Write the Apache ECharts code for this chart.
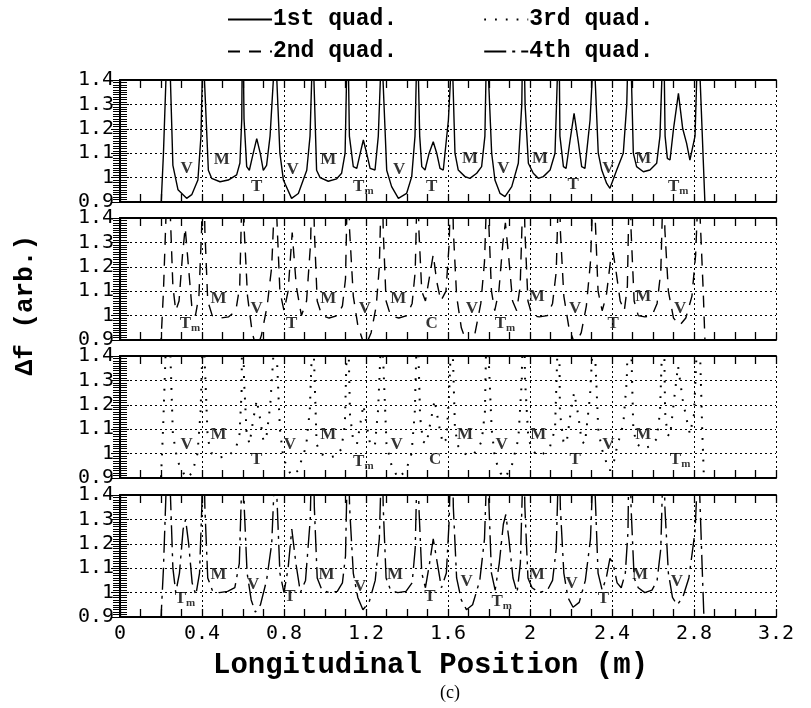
<!DOCTYPE html>
<html lang="en">
<head>
	<meta charset="UTF-8">
	<title>quad</title>
	<script src="https://cdn.jsdelivr.net/npm/echarts@6/dist/echarts.min.js"></script>
	<style>html,body{margin:0;padding:0;background:#fff}</style>
</head>
<body>
	<div id="app" style="width:811px;height:708px"></div>
	<script>
		// axis ticks
		var xTicks=[0,0.4,0.8,1.2,1.6,2,2.4,2.8,3.2];
		var yTicks=[0.9,1,1.1,1.2,1.3,1.4];
		var quadNames=['1st quad.','2nd quad.','3rd quad.','4th quad.'];

		// curves, [position, df]; peaks leave the frame at the top
		var quad1=[[0.200,0.88],[0.212,1.10],[0.224,1.40],[0.235,1.75],
			[0.246,1.40],[0.258,1.05],[0.283,0.95],[0.325,0.915],[0.350,0.93],[0.380,0.99],[0.395,1.17],[0.401,1.40],[0.406,1.75],
			[0.412,1.40],[0.431,1.03],[0.447,0.997],[0.488,0.983],[0.528,0.99],[0.569,1.011],[0.585,1.06],[0.594,1.24],[0.598,1.75],
			[0.605,1.24],[0.618,1.045],[0.631,1.03],[0.650,1.10],[0.667,1.16],[0.684,1.10],[0.699,1.03],[0.715,1.05],[0.732,1.17],[0.748,1.40],[0.756,1.75],
			[0.765,1.40],[0.780,1.10],[0.797,0.99],[0.837,0.915],[0.870,0.935],[0.911,1.03],[0.927,1.17],[0.935,1.40],[0.940,1.75],
			[0.946,1.40],[0.959,1.03],[0.976,1.00],[1.016,0.985],[1.057,0.995],[1.081,1.018],[1.098,1.10],[1.105,1.40],[1.110,1.75],
			[1.115,1.40],[1.119,1.17],[1.138,1.045],[1.155,1.038],[1.172,1.10],[1.187,1.154],[1.203,1.10],[1.220,1.038],[1.244,1.031],[1.260,1.17],[1.270,1.40],[1.276,1.75],
			[1.283,1.40],[1.301,1.03],[1.325,0.963],[1.358,0.915],[1.398,0.935],[1.423,1.004],[1.439,1.17],[1.445,1.40],[1.450,1.75],
			[1.456,1.40],[1.462,1.17],[1.472,1.045],[1.488,1.031],[1.508,1.10],[1.528,1.147],[1.545,1.10],[1.561,1.038],[1.577,1.031],[1.602,1.236],[1.612,1.40],[1.618,1.75],
			[1.624,1.40],[1.634,1.10],[1.650,1.031],[1.683,1.004],[1.707,0.997],[1.740,1.018],[1.764,1.045],[1.780,1.17],[1.785,1.40],[1.790,1.75],
			[1.798,1.40],[1.813,1.10],[1.829,0.99],[1.854,0.935],[1.878,0.922],[1.911,0.963],[1.943,1.059],[1.960,1.30],[1.967,1.75],
			[1.976,1.30],[1.992,1.059],[2.016,1.018],[2.040,0.997],[2.065,1.004],[2.098,1.031],[2.122,1.10],[2.133,1.40],[2.140,1.75],
			[2.146,1.17],[2.163,1.045],[2.176,1.038],[2.195,1.15],[2.215,1.263],[2.235,1.15],[2.252,1.045],[2.268,1.038],[2.293,1.236],[2.303,1.40],[2.310,1.75],
			[2.318,1.40],[2.333,1.10],[2.350,1.031],[2.374,0.976],[2.390,0.956],[2.405,0.99],[2.423,1.031],[2.455,1.10],[2.472,1.30],[2.485,1.75],
			[2.495,1.40],[2.504,1.10],[2.520,1.045],[2.553,1.024],[2.585,1.031],[2.618,1.059],[2.634,1.17],[2.643,1.40],[2.650,1.75],
			[2.659,1.17],[2.670,1.079],[2.683,1.072],[2.700,1.20],[2.724,1.345],[2.745,1.20],[2.764,1.14],[2.780,1.072],[2.805,1.17],[2.813,1.40],[2.820,1.75],
			[2.830,1.40],[2.854,0.88]];

		var quad2=[[0.198,0.86],[0.212,1.10],[0.224,1.40],[0.235,1.75],
			[0.246,1.40],[0.258,1.12],[0.272,1.02],[0.288,1.06],[0.305,1.25],[0.318,1.36],[0.332,1.22],[0.350,1.04],[0.368,1.00],[0.385,1.08],[0.398,1.35],[0.406,1.75],
			[0.414,1.35],[0.428,1.06],[0.450,1.00],[0.490,0.99],[0.530,0.995],[0.565,1.02],[0.584,1.12],[0.592,1.40],[0.598,1.75],
			[0.606,1.35],[0.622,1.08],[0.645,0.93],[0.667,0.86],[0.690,0.92],[0.718,1.04],[0.740,1.20],[0.750,1.40],[0.756,1.75],
			[0.765,1.40],[0.780,1.10],[0.800,1.02],[0.820,1.10],[0.840,1.34],[0.860,1.12],[0.885,1.00],[0.910,1.06],[0.930,1.30],[0.940,1.75],
			[0.948,1.35],[0.962,1.06],[0.985,1.00],[1.020,0.99],[1.060,1.00],[1.085,1.04],[1.100,1.15],[1.106,1.40],[1.110,1.75],
			[1.120,1.35],[1.138,1.08],[1.160,0.96],[1.195,0.87],[1.225,0.93],[1.250,1.04],[1.265,1.20],[1.271,1.40],[1.276,1.75],
			[1.284,1.35],[1.298,1.06],[1.320,1.00],[1.360,0.99],[1.400,1.00],[1.425,1.05],[1.440,1.18],[1.446,1.40],[1.450,1.75],
			[1.458,1.35],[1.472,1.10],[1.490,1.06],[1.510,1.16],[1.528,1.25],[1.545,1.14],[1.565,1.06],[1.590,1.10],[1.606,1.30],[1.618,1.75],
			[1.626,1.35],[1.642,1.08],[1.665,0.95],[1.700,0.87],[1.730,0.92],[1.760,1.05],[1.778,1.22],[1.785,1.40],[1.790,1.75],
			[1.798,1.40],[1.812,1.10],[1.828,1.02],[1.848,1.10],[1.868,1.30],[1.880,1.38],[1.895,1.25],[1.915,1.06],[1.935,1.02],[1.952,1.12],[1.962,1.40],[1.967,1.75],
			[1.975,1.35],[1.990,1.06],[2.010,1.00],[2.045,0.995],[2.085,1.00],[2.110,1.05],[2.128,1.18],[2.135,1.40],[2.140,1.75],
			[2.148,1.35],[2.165,1.08],[2.190,0.95],[2.220,0.88],[2.250,0.93],[2.275,1.04],[2.295,1.22],[2.303,1.40],[2.310,1.75],
			[2.318,1.40],[2.332,1.10],[2.352,1.02],[2.372,1.08],[2.392,1.22],[2.405,1.26],[2.420,1.18],[2.440,1.06],[2.460,1.02],[2.475,1.12],[2.481,1.40],[2.485,1.75],
			[2.493,1.35],[2.508,1.06],[2.528,1.00],[2.560,0.995],[2.595,1.00],[2.620,1.05],[2.638,1.18],[2.645,1.40],[2.650,1.75],
			[2.658,1.35],[2.675,1.10],[2.700,0.99],[2.730,0.96],[2.760,0.99],[2.790,1.08],[2.808,1.25],[2.815,1.40],[2.820,1.75],
			[2.830,1.40],[2.845,1.10],[2.855,0.86]];

		var quad3=[[0.198,0.86],[0.210,1.10],[0.222,1.40],[0.235,1.75],
			[0.246,1.40],[0.258,1.08],[0.280,0.97],[0.322,0.90],[0.352,0.92],[0.378,1.00],[0.393,1.17],[0.401,1.40],[0.406,1.75],
			[0.412,1.40],[0.428,1.06],[0.448,1.00],[0.488,0.985],[0.528,0.99],[0.565,1.02],[0.583,1.08],[0.593,1.25],[0.598,1.75],
			[0.605,1.30],[0.618,1.08],[0.632,1.04],[0.650,1.14],[0.667,1.22],[0.684,1.14],[0.700,1.05],[0.716,1.08],[0.733,1.20],[0.748,1.40],[0.756,1.75],
			[0.765,1.40],[0.780,1.10],[0.797,0.98],[0.835,0.91],[0.868,0.93],[0.908,1.03],[0.926,1.18],[0.935,1.40],[0.940,1.75],
			[0.946,1.40],[0.959,1.04],[0.978,1.00],[1.016,0.985],[1.055,0.99],[1.080,1.02],[1.097,1.12],[1.105,1.40],[1.110,1.75],
			[1.116,1.40],[1.122,1.16],[1.138,1.05],[1.156,1.04],[1.172,1.12],[1.187,1.20],[1.203,1.12],[1.220,1.04],[1.243,1.03],[1.259,1.18],[1.270,1.40],[1.276,1.75],
			[1.283,1.40],[1.300,1.04],[1.325,0.95],[1.356,0.90],[1.395,0.93],[1.422,1.00],[1.438,1.17],[1.445,1.40],[1.450,1.75],
			[1.456,1.40],[1.464,1.15],[1.478,1.05],[1.495,1.04],[1.515,1.13],[1.535,1.22],[1.555,1.12],[1.575,1.04],[1.592,1.06],[1.606,1.25],[1.612,1.40],[1.618,1.75],
			[1.624,1.40],[1.634,1.10],[1.650,1.03],[1.683,1.00],[1.707,0.99],[1.740,1.01],[1.764,1.05],[1.780,1.17],[1.785,1.40],[1.790,1.75],
			[1.798,1.40],[1.813,1.10],[1.829,0.98],[1.856,0.92],[1.878,0.90],[1.911,0.95],[1.943,1.06],[1.960,1.30],[1.967,1.75],
			[1.976,1.30],[1.992,1.06],[2.016,1.01],[2.040,0.99],[2.065,1.00],[2.098,1.03],[2.122,1.10],[2.133,1.40],[2.140,1.75],
			[2.146,1.17],[2.163,1.05],[2.178,1.04],[2.197,1.16],[2.215,1.25],[2.235,1.16],[2.252,1.05],[2.268,1.04],[2.293,1.24],[2.303,1.40],[2.310,1.75],
			[2.318,1.40],[2.333,1.10],[2.350,1.02],[2.374,0.96],[2.390,0.93],[2.410,0.97],[2.425,1.03],[2.455,1.12],[2.472,1.30],[2.485,1.75],
			[2.495,1.40],[2.504,1.10],[2.520,1.04],[2.553,1.02],[2.585,1.03],[2.618,1.06],[2.634,1.17],[2.643,1.40],[2.650,1.75],
			[2.659,1.17],[2.670,1.08],[2.683,1.07],[2.700,1.20],[2.722,1.36],[2.745,1.22],[2.764,1.14],[2.780,1.08],[2.800,1.16],[2.812,1.40],[2.820,1.75],
			[2.830,1.40],[2.840,1.10],[2.850,0.86]];

		var quad4=[[0.198,0.86],[0.212,1.10],[0.224,1.40],[0.235,1.75],
			[0.246,1.40],[0.258,1.10],[0.272,1.00],[0.290,1.08],[0.308,1.26],[0.320,1.30],[0.335,1.20],[0.352,1.04],[0.370,0.99],[0.388,1.08],[0.399,1.35],[0.406,1.75],
			[0.414,1.35],[0.428,1.06],[0.450,1.01],[0.485,1.00],[0.525,1.005],[0.560,1.02],[0.582,1.12],[0.592,1.40],[0.598,1.75],
			[0.606,1.35],[0.620,1.08],[0.640,0.97],[0.660,0.92],[0.685,0.95],[0.715,1.05],[0.740,1.20],[0.750,1.40],[0.756,1.75],
			[0.765,1.40],[0.780,1.08],[0.800,1.00],[0.820,1.10],[0.838,1.26],[0.858,1.12],[0.880,1.00],[0.905,1.05],[0.928,1.30],[0.940,1.75],
			[0.948,1.35],[0.962,1.06],[0.985,1.01],[1.020,1.00],[1.060,1.005],[1.085,1.04],[1.100,1.15],[1.106,1.40],[1.110,1.75],
			[1.120,1.35],[1.138,1.08],[1.160,0.98],[1.185,0.93],[1.215,0.96],[1.245,1.05],[1.265,1.22],[1.271,1.40],[1.276,1.75],
			[1.284,1.35],[1.298,1.06],[1.320,1.01],[1.355,1.00],[1.395,1.005],[1.425,1.04],[1.440,1.18],[1.446,1.40],[1.450,1.75],
			[1.458,1.35],[1.472,1.08],[1.490,1.02],[1.510,1.12],[1.528,1.22],[1.548,1.12],[1.568,1.02],[1.592,1.08],[1.606,1.30],[1.618,1.75],
			[1.626,1.35],[1.642,1.06],[1.665,0.97],[1.690,0.93],[1.720,0.95],[1.755,1.05],[1.778,1.22],[1.785,1.40],[1.790,1.75],
			[1.798,1.40],[1.812,1.08],[1.830,1.01],[1.850,1.12],[1.870,1.28],[1.882,1.32],[1.897,1.22],[1.917,1.06],[1.937,1.00],[1.953,1.12],[1.962,1.40],[1.967,1.75],
			[1.975,1.35],[1.990,1.06],[2.010,1.02],[2.045,1.00],[2.085,1.01],[2.110,1.05],[2.128,1.18],[2.135,1.40],[2.140,1.75],
			[2.148,1.35],[2.165,1.08],[2.185,0.98],[2.210,0.94],[2.240,0.96],[2.270,1.05],[2.295,1.22],[2.303,1.40],[2.310,1.75],
			[2.318,1.40],[2.332,1.08],[2.352,1.01],[2.372,1.06],[2.390,1.14],[2.405,1.12],[2.425,1.04],[2.445,1.02],[2.465,1.08],[2.478,1.25],[2.485,1.75],
			[2.493,1.35],[2.508,1.06],[2.528,1.02],[2.560,1.00],[2.595,1.01],[2.620,1.05],[2.638,1.18],[2.645,1.40],[2.650,1.75],
			[2.658,1.35],[2.675,1.08],[2.695,0.98],[2.718,0.95],[2.745,0.98],[2.775,1.06],[2.805,1.25],[2.813,1.40],[2.820,1.75],
			[2.828,1.40],[2.840,1.10],[2.850,0.86]];

		// region labels [text, position, df]
		var marks1=[['V',0.325,1.038],['M',0.496,1.072],['T',0.667,0.963],['V',0.842,1.031],['M',1.016,1.072],['Tm',1.187,0.963],['V',1.362,1.031],['T',1.520,0.963],['M',1.707,1.079],['V',1.870,1.038],['M',2.049,1.079],['T',2.211,0.970],['V',2.382,1.038],['M',2.553,1.079],['Tm',2.723,0.963]];
		var marks2=[['Tm',0.341,0.969],['M',0.480,1.069],['V',0.667,1.029],['T',0.838,0.969],['M',1.016,1.069],['V',1.195,1.029],['M',1.358,1.069],['C',1.520,0.969],['V',1.716,1.029],['Tm',1.878,0.969],['M',2.033,1.076],['V',2.220,1.029],['T',2.406,0.969],['M',2.553,1.076],['V',2.732,1.029]];
		var marks3=[['V',0.325,1.037],['M',0.480,1.078],['T',0.667,0.976],['V',0.829,1.037],['M',1.016,1.078],['Tm',1.187,0.969],['V',1.350,1.037],['C',1.537,0.976],['M',1.683,1.078],['V',1.862,1.037],['M',2.040,1.078],['T',2.220,0.976],['V',2.382,1.037],['M',2.553,1.078],['Tm',2.732,0.976]];
		var marks4=[['Tm',0.317,0.977],['M',0.480,1.072],['V',0.650,1.031],['T',0.829,0.983],['M',1.008,1.072],['V',1.171,1.024],['M',1.341,1.072],['T',1.512,0.983],['V',1.691,1.045],['Tm',1.862,0.963],['M',2.033,1.072],['V',2.203,1.038],['T',2.358,0.977],['M',2.537,1.072],['V',2.716,1.045]];

		var curves=[quad1,quad2,quad3,quad4];
		var marks=[marks1,marks2,marks3,marks4];
		var dashes=['solid',[12,9],[1.8,9],[22,6,3,6]];
		var tops=[80,218,356,495];

		var grids=[],xAxes=[],yAxes=[],series=[];
		var dot={color:'#000',type:[2,3],width:1};
		tops.forEach(function(t,i){
			grids.push({left:120,width:656,top:t,height:122});
			var common={gridIndex:i,type:'value',min:xTicks[0],max:xTicks[xTicks.length-1],interval:xTicks[1]-xTicks[0]};
			xAxes.push(Object.assign({},common,{position:'bottom',
				axisLine:{lineStyle:{color:'#000',width:2}},
				axisTick:{inside:true,length:8,lineStyle:{color:'#000',width:1.3}},
				minorTick:{show:true,splitNumber:4,length:8,lineStyle:{color:'#000',width:1.3}},
				splitLine:{show:true,lineStyle:dot},
				axisLabel:{show:i===3,color:'#000',fontSize:20,fontFamily:'DejaVu Sans Mono',margin:7}}));
			xAxes.push(Object.assign({},common,{position:'top',
				axisLine:{lineStyle:{color:'#000',width:2}},
				axisTick:{inside:true,length:8,lineStyle:{color:'#000',width:1.3}},
				minorTick:{show:true,splitNumber:4,length:8,lineStyle:{color:'#000',width:1.3}},
				splitLine:{show:false},axisLabel:{show:false}}));
			var ycommon={gridIndex:i,type:'value',min:yTicks[0],max:yTicks[yTicks.length-1],interval:0.1};
			yAxes.push(Object.assign({},ycommon,{position:'left',
				axisLine:{show:true,lineStyle:{color:'#000',width:2}},
				axisTick:{inside:true,length:9,lineStyle:{color:'#000',width:1}},
				minorTick:{show:true,splitNumber:10,length:7,lineStyle:{color:'#000',width:1}},
				splitLine:{show:true,lineStyle:dot},
				axisLabel:{color:'#000',fontSize:20,fontFamily:'DejaVu Sans Mono',margin:6}}));
			yAxes.push(Object.assign({},ycommon,{position:'right',
				axisLine:{show:true,lineStyle:{color:'#000',width:2}},
				axisTick:{inside:true,length:9,lineStyle:{color:'#000',width:1}},
				minorTick:{show:true,splitNumber:10,length:7,lineStyle:{color:'#000',width:1}},
				splitLine:{show:false},axisLabel:{show:false}}));
			series.push({name:quadNames[i],type:'line',xAxisIndex:2*i,yAxisIndex:2*i,
				data:curves[i],symbol:'none',clip:true,
				lineStyle:{color:'#000',width:i===2?2:1.4,type:dashes[i]},
				itemStyle:{color:'#000'}});
			series.push({type:'scatter',xAxisIndex:2*i,yAxisIndex:2*i,symbolSize:1,
				itemStyle:{color:'rgba(0,0,0,0)'},
				data:marks[i].map(function(m){return [m[1],m[2],m[0]];}),
				label:{show:true,position:'inside',color:'#000',
					formatter:function(p){var s=p.value[2];return s==='Tm'?'{t|T}{m|m}':'{t|'+s+'}';},
					rich:{t:{fontFamily:'Liberation Serif',fontWeight:'bold',fontSize:17,color:'#000'},
						m:{fontFamily:'Liberation Serif',fontWeight:'bold',fontSize:11,color:'#000',padding:[9,0,0,0]}}}});
		});

		var legendText={fontFamily:'Liberation Mono',fontWeight:'bold',fontSize:23,color:'#000',padding:[0,0,0,-4]};
		var legendBase={left:222,itemWidth:44,itemHeight:12,itemGap:86,textStyle:legendText,selectedMode:false,itemStyle:{opacity:0}};
		var myChart=echarts.init(document.getElementById('app'));
		var option={
			animation:false,
			backgroundColor:'#fff',
			legend:[
				Object.assign({data:[quadNames[0],quadNames[2]],top:3},legendBase),
				Object.assign({data:[quadNames[1],quadNames[3]],top:35},legendBase)
			],
			title:[
				{text:'Longitudinal Position (m)',left:208,top:646,textStyle:{fontFamily:'Liberation Mono',fontWeight:'bold',fontSize:29,color:'#000'}},
				{text:'(c)',left:435,top:679,textStyle:{fontFamily:'Liberation Serif',fontWeight:'normal',fontSize:18,color:'#000'}}
			],
			graphic:[{type:'text',left:12,top:235,rotation:Math.PI/2,
				style:{text:'\u0394f (arb.)',fontFamily:'Liberation Mono',fontWeight:'bold',fontSize:26,fill:'#000'}}],
			grid:grids,
			xAxis:xAxes,
			yAxis:yAxes,
			series:series
		};
		myChart.setOption(option);
	</script>
</body>
</html>
